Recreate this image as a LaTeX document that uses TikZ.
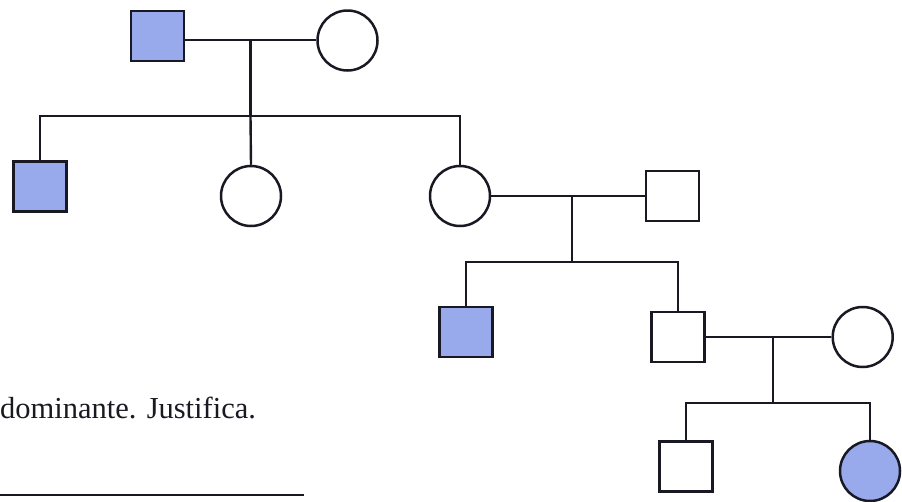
\documentclass[tikz,border=0pt]{standalone}
\usepackage{fontspec}
\setmainfont{Liberation Serif}
\definecolor{affblue}{RGB}{152,170,236}
\definecolor{ink}{RGB}{25,25,35}
\begin{document}
\begin{tikzpicture}[x=1pt,y=-1pt,
  person/.style={draw=ink, line width=2.5pt, inner sep=0pt},
  male/.style={person, rectangle, minimum width=53pt, minimum height=50pt},
  female/.style={person, circle, minimum size=60pt},
  affected/.style={fill=affblue},
  link/.style={draw=ink, line width=2.4pt}]
\useasboundingbox (0,0) rectangle (902,501);
\clip (0,0) rectangle (902,501);

% generation I
\node[male, affected] (I1) at (157.5,36) {};
\node[female] (I2) at (347.5,40.5) {};
% generation II
\node[male, affected] (II1) at (40,186.5) {};
\node[female] (II2) at (251,196) {};
\node[female] (II3) at (460,196) {};
\node[male] (II4) at (672.5,196) {};
% generation III
\node[male, affected] (III1) at (466,332) {};
\node[male] (III2) at (678,337) {};
\node[female] (III3) at (862.7,337) {};
% generation IV
\node[male] (IV1) at (686,466.5) {};
\node[female, affected] (IV2) at (870,471) {};

% couples and sibships
\coordinate (m1) at (250.5,40);
\coordinate (s1) at (250.5,116);
\draw[link] (m1 -| I1.east) -- (m1 -| I2.west);
\draw[link] (m1) -- (s1);
\draw[link] (II1.north) |- (s1) -| (II3.north);
\draw[link] (s1) -- (II2.north);

\coordinate (m2) at (572,196);
\coordinate (s2) at (572,262);
\draw[link] (II3.east) -- (II4.west);
\draw[link] (m2) -- (s2);
\draw[link] (III1.north) |- (s2) -| (III2.north);

\coordinate (m3) at (773,337.5);
\coordinate (s3) at (773,403);
\draw[link] (III2.east) -- (III3.west);
\draw[link] (m3) -- (s3);
\draw[link] (IV1.north) |- (s3) -| (IV2.north);

% question text and answer line
\node[anchor=base west, inner sep=0pt, text=ink, font=\fontsize{30.5}{36}\selectfont] (q) at (0,418) {dominante. Justifica.};
\coordinate (a0) at (0,495);
\coordinate (a1) at (304,495);
\draw[draw=ink, line width=1.8pt] (a0) -- (a1);
\end{tikzpicture}
\end{document}
